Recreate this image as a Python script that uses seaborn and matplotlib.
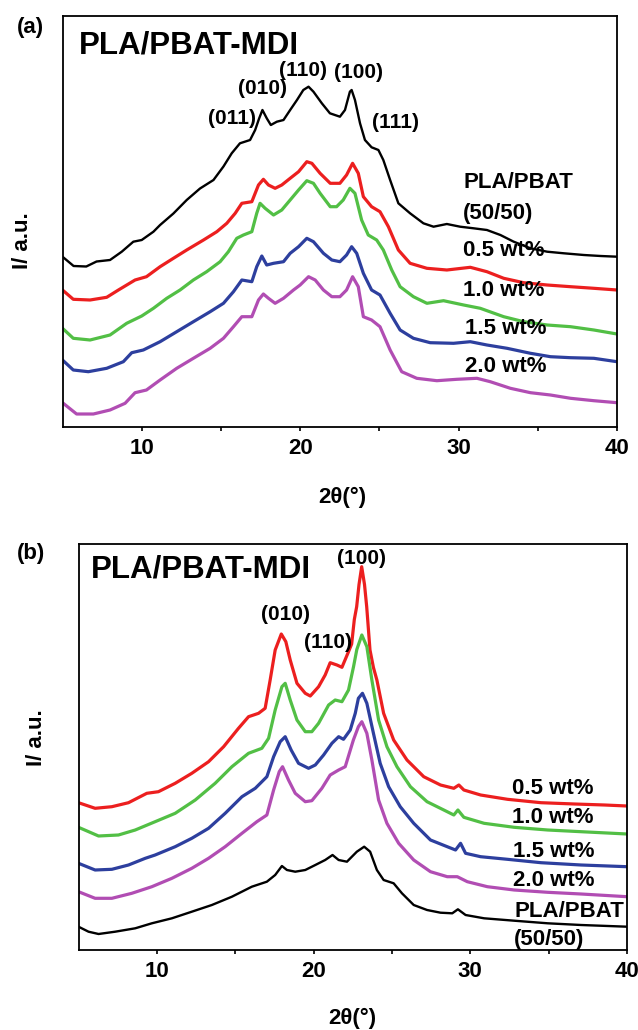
import matplotlib
matplotlib.use("Agg")
import matplotlib.pyplot as plt
import seaborn as sns
import pandas as pd
from matplotlib.ticker import FixedLocator

# ---------------- data (2theta in degrees, intensity in arbitrary units) -------------
samples_a = ["PLA/PBAT (50/50)", "0.5 wt%", "1.0 wt%", "1.5 wt%", "2.0 wt%"]
samples_b = ["0.5 wt%", "1.0 wt%", "1.5 wt%", "2.0 wt%", "PLA/PBAT (50/50)"]

a_black = [(5.0,169.8),(5.7,160.5),(6.5,160),(7.15,165),(8.0,166.5),(8.74,174.8),(9.47,184.8),
           (10.0,186.5),(10.74,194.8),(11.16,201.5),(12.0,213),(12.84,226.5),(13.68,238),(14.53,246.5),
           (15.16,260),(15.68,273.2),(16.2,283.2),(16.84,286.5),(17.16,296.5),(17.41,308),(17.62,316.5),
           (17.9,308),(18.15,301.5),(18.53,304.8),(18.95,306.5),(19.37,316.5),(19.8,326.5),(20.2,336.5),
           (20.53,339.8),(20.84,334.8),(21.37,323.2),(21.88,313.2),(22.51,309.8),(22.83,316.5),
           (23.14,334.8),(23.25,336.5),(23.46,326.5),(23.78,303.2),(24.09,286.5),(24.51,279.2),
           (24.94,276.5),(25.25,266.5),(25.68,246.5),(26.2,223.2),(26.94,213.2),(27.78,203.2),
           (28.42,199.8),(29.26,202.5),(30.1,199.8),(30.95,198.2),(31.79,196.5),(32.64,191.5),
           (33.48,184.8),(34.54,178.2),(35.59,174.8),(36.65,173.2),(37.91,171.5),(38.97,170.5),(40.0,169.8)]
a_red = [(5.0,136.5),(5.68,127.2),(6.74,126.5),(7.79,129.2),(8.53,136.5),(9.58,146.5),(10.3,149.8),
         (11.16,159.8),(12.0,168.2),(12.84,176.5),(13.9,186.5),(14.74,194.8),(15.37,203.2),(15.9,213.2),
         (16.32,223.2),(16.95,224.8),(17.37,241.5),(17.68,247.2),(18.0,241.5),(18.42,238.2),(18.84,241.5),
         (19.37,248.2),(19.9,254.8),(20.42,264.8),(20.74,263.2),(21.26,253.2),(21.9,243.2),(22.51,243.2),
         (22.93,251.5),(23.31,263.2),(23.67,253.2),(23.99,229.8),(24.51,219.8),(25.04,214.8),(25.57,199.8),
         (26.2,176.5),(26.94,163.2),(28.0,158.2),(29.26,156.5),(30.74,159.2),(31.79,154.8),(32.85,148.2),
         (34.11,143.8),(35.59,141.5),(37.07,139.8),(38.54,138.2),(40.0,136.5)]
a_green = [(5.0,98.2),(5.68,88.2),(6.74,86.5),(8.0,91.5),(9.05,103.2),(10.0,110.5),(10.74,118.2),
           (11.58,128.2),(12.42,136.5),(13.26,146.5),(14.1,154.8),(14.95,164.8),(15.47,174.8),(16.0,188.2),
           (16.42,191.5),(16.95,194.8),(17.26,213.2),(17.47,223.2),(17.79,218.2),(18.32,211.5),(18.84,216.5),
           (19.37,226.5),(19.9,236.5),(20.42,245.8),(20.84,243.2),(21.26,233.2),(21.9,219.8),(22.3,219.8),
           (22.72,226.5),(23.14,238.2),(23.46,233.2),(23.88,206.5),(24.3,191.5),(24.83,186.5),(25.25,176.5),
           (25.78,156.5),(26.31,139.8),(27.15,129.8),(28.0,123.2),(29.05,125.8),(30.32,121.5),(31.37,118.2),
           (32.85,109.8),(34.11,104.8),(35.59,101.5),(37.07,99.8),(38.54,96.5),(40.0,92.5)]
a_blue = [(5.0,66.5),(5.68,56.5),(6.63,54.8),(7.79,58.2),(8.84,64.8),(9.37,73.8),(10.1,76.5),
          (11.16,84.8),(12.21,94.8),(13.26,104.8),(14.32,114.8),(15.16,123.2),(15.79,134.8),(16.32,146.5),
          (16.95,144.8),(17.26,159.8),(17.58,170.5),(17.89,161.5),(18.32,163.2),(18.95,164.8),(19.37,173.2),
          (19.9,179.8),(20.42,188.2),(20.84,184.8),(21.47,173.2),(22.0,166.5),(22.51,164.8),(22.93,171.5),
          (23.25,179.8),(23.57,173.2),(23.99,153.2),(24.51,136.5),(25.04,131.5),(25.68,113.2),(26.31,96.5),
          (27.15,88.2),(28.21,83.8),(29.68,83.2),(30.74,84.8),(31.79,81.5),(33.06,78.2),(34.54,73.2),
          (35.8,69.8),(37.07,68.8),(38.54,68.2),(40.0,64.8)]
a_purple = [(5.0,23.8),(5.89,12.5),(6.95,12.5),(8.0,16.5),(8.95,23.2),(9.58,33.8),(10.3,36.5),
            (11.16,46.5),(12.21,58.2),(13.26,68.2),(14.32,78.2),(15.16,88.2),(15.79,99.8),(16.32,109.8),
            (16.95,109.8),(17.37,126.5),(17.68,132.5),(18.0,128.2),(18.42,123.2),(18.95,128.2),(19.58,136.5),
            (20.0,141.5),(20.53,149.8),(20.95,146.5),(21.47,136.5),(22.0,129.8),(22.51,129.8),(22.93,136.5),
            (23.31,149.8),(23.67,139.8),(23.99,109.8),(24.51,106.5),(25.04,99.8),(25.68,76.5),(26.41,54.8),
            (27.36,48.2),(28.63,45.8),(29.89,47.2),(31.16,48.2),(32.0,44.8),(33.27,38.2),(34.54,33.8),
            (35.8,31.5),(37.07,28.2),(38.54,25.8),(40.0,23.8)]

b_red = [(5.0,146.8),(6.06,141.2),(7.13,142.8),(8.19,146.8),(9.36,156.2),(10.1,157.8),(11.17,166.2),
         (12.23,176.2),(13.3,187.8),(14.26,202.8),(15.21,221.2),(15.85,232.8),(16.49,236.2),(16.91,241.2),
         (17.23,269.5),(17.55,299.5),(17.94,315.5),(18.23,307.8),(18.51,289.5),(18.94,266.2),(19.47,256.2),
         (19.79,253.5),(20.32,262.8),(20.74,274.5),(21.06,286.8),(21.49,284.5),(21.81,282.2),(22.23,297.8),
         (22.43,305.5),(22.6,330.0),(22.75,342.8),(22.9,365.0),(23.07,382.8),(23.25,365.0),(23.39,342.8),
         (23.6,299.5),(23.82,282.0),(24.04,269.5),(24.47,236.2),(25.11,209.5),(25.96,189.5),(27.03,172.8),
         (28.1,164.5),(28.95,161.2),(29.27,164.5),(29.59,159.5),(30.66,154.5),(32.37,150.2),(34.51,146.8),
         (36.65,145.5),(38.57,144.5),(40.0,143.5)]
b_green = [(5.0,122.2),(6.28,113.5),(7.55,114.5),(8.62,119.5),(9.89,127.8),(11.17,136.2),(12.45,149.5),
           (13.72,166.2),(14.79,182.8),(15.85,196.2),(16.7,201.2),(17.13,211.2),(17.55,239.5),(17.98,262.8),
           (18.19,266.2),(18.51,249.5),(18.94,229.5),(19.47,217.8),(19.89,217.8),(20.32,226.2),(20.96,244.5),
           (21.38,249.5),(21.81,247.8),(22.23,259.5),(22.55,282.8),(22.76,300.0),(23.08,314.5),(23.4,302.8),
           (23.72,269.5),(24.15,229.5),(24.68,202.8),(25.32,182.8),(26.18,162.8),(27.24,147.8),(28.31,139.5),
           (28.95,134.5),(29.21,139.5),(29.59,132.2),(30.88,126.2),(32.8,122.2),(34.94,119.5),(37.07,117.8),
           (40.0,115.5)]
b_blue = [(5.0,86.2),(6.06,79.5),(7.13,80.2),(8.19,84.5),(9.26,91.2),(9.89,94.5),(11.17,102.8),
          (12.23,111.2),(13.3,121.2),(14.36,136.2),(15.43,152.8),(16.28,161.2),(17.02,172.8),(17.45,192.8),
          (17.87,207.8),(18.19,212.8),(18.57,199.5),(19.04,186.2),(19.68,181.2),(20.11,184.5),(20.64,194.5),
          (21.17,206.2),(21.6,212.8),(21.91,210.2),(22.34,219.5),(22.66,236.2),(22.86,251.2),(23.12,256.2),
          (23.4,246.2),(23.82,216.2),(24.25,186.2),(24.79,162.8),(25.53,142.8),(26.39,126.2),(27.46,109.5),
          (28.53,102.8),(29.06,99.5),(29.38,106.2),(29.7,96.2),(30.66,92.8),(32.37,90.2),(34.51,86.8),
          (37.07,84.5),(40.0,82.8)]
b_purple = [(5.0,57.8),(6.06,51.2),(7.13,51.2),(8.4,56.2),(9.68,62.8),(10.96,71.2),(12.23,81.2),
            (13.3,91.2),(14.36,102.8),(15.43,116.2),(16.38,127.8),(17.02,134.5),(17.45,159.5),(17.81,177.8),
            (18.02,182.8),(18.4,169.5),(18.83,156.2),(19.47,147.8),(19.89,148.8),(20.53,161.2),(21.06,174.5),
            (21.6,179.5),(22.02,182.8),(22.54,209.5),(22.86,222.8),(23.08,227.8),(23.4,216.2),(23.72,189.5),
            (24.15,149.5),(24.68,126.2),(25.43,106.2),(26.39,89.5),(27.46,77.8),(28.53,72.8),(29.17,72.8),
            (29.81,67.8),(31.09,62.8),(32.8,59.5),(34.94,57.2),(37.07,55.5),(40.0,52.8)]
b_black = [(5.0,22.8),(5.64,17.8),(6.28,15.5),(7.34,17.8),(8.62,21.2),(9.68,26.2),(10.96,31.2),
           (12.23,37.8),(13.51,44.5),(14.79,52.8),(16.06,62.8),(17.02,67.8),(17.55,74.5),(17.98,83.5),
           (18.3,79.5),(18.83,77.8),(19.47,79.5),(20.11,84.5),(20.74,89.5),(21.21,94.5),(21.6,89.5),
           (22.13,87.8),(22.76,97.8),(23.23,102.8),(23.61,97.8),(24.04,79.5),(24.47,69.5),(25.11,66.2),
           (25.64,56.2),(26.39,44.5),(27.24,39.5),(28.1,36.8),(28.85,36.2),(29.21,40.2),(29.7,34.5),
           (30.88,31.2),(32.8,28.8),(34.94,26.2),(37.07,24.5),(40.0,22.8)]

peaks_a = ["(011)", "(010)", "(110)", "(100)", "(111)"]
peaks_a_pos = [(15.7, 308.5), (17.6, 337.5), (20.19, 355.5), (23.66, 353.5), (25.99, 303.5)]
peaks_b = ["(010)", "(110)", "(100)"]
peaks_b_pos = [(18.18, 334.5), (20.92, 306.5), (23.05, 391.5)]
xticks_major = [10, 20, 30, 40]
xticks_minor = [15, 25, 35]

colors = {"PLA/PBAT (50/50)": "#000000", "0.5 wt%": "#ec1f1f", "1.0 wt%": "#52bf45",
          "1.5 wt%": "#2d3f9e", "2.0 wt%": "#b14db3"}


def frame(series, names):
    rows = []
    for pts, name in zip(series, names):
        for order, (x, y) in enumerate(pts):
            rows.append({"two_theta": x, "I": y, "sample": name, "order": order})
    return pd.DataFrame(rows)


df_a = frame([a_black, a_red, a_green, a_blue, a_purple], samples_a)
df_b = frame([b_red, b_green, b_blue, b_purple, b_black], samples_b)

sns.set_theme(style="white")
plt.rcParams["font.family"] = ["Liberation Sans", "DejaVu Sans"]
plt.rcParams["font.weight"] = "bold"
plt.rcParams["axes.labelweight"] = "bold"
plt.rcParams["text.color"] = "black"
plt.rcParams["xtick.color"] = "black"
plt.rcParams["xtick.labelcolor"] = "black"
plt.rcParams["axes.edgecolor"] = "black"

W, H = 638, 1030
fig = plt.figure(figsize=(W / 100, H / 100), dpi=100)
fig.patch.set_facecolor("white")

ax_a = fig.add_axes([62.5 / W, 1 - 426.5 / H, (617 - 62.5) / W, (426.5 - 16) / H])
ax_b = fig.add_axes([78.5 / W, 1 - 949.5 / H, (627 - 78.5) / W, (949.5 - 544) / H])


def draw(ax, df, names, ylim):
    for name in names:
        sub = df[df["sample"] == name]
        lw = 1.7 if name.startswith("PLA") else 2.3
        sns.lineplot(data=sub, x="two_theta", y="I", ax=ax, color=colors[name],
                     lw=lw, sort=False, estimator=None, legend=False)
    ax.set_xlim(5, 40)
    ax.set_ylim(*ylim)
    ax.set_yticks([])
    ax.xaxis.set_major_locator(FixedLocator(xticks_major))
    ax.xaxis.set_minor_locator(FixedLocator(xticks_minor))
    ax.tick_params(axis="x", which="both", direction="out", length=3.2, width=1.2,
                   bottom=True, top=False, labelsize=16, pad=5, colors="black")
    for lab in ax.get_xticklabels():
        lab.set_fontweight("bold")
    for s in ax.spines.values():
        s.set_visible(True)
        s.set_color("black")
        s.set_linewidth(1.3)
    ax.set_xlabel("")
    ax.set_ylabel("")
    ax.set_facecolor("white")


draw(ax_a, df_a, samples_a, (0, 410.5))
draw(ax_b, df_b, samples_b, (0, 405.5))

# panel a annotations
ax_a.text(6.04, 381.5, "PLA/PBAT-MDI", fontsize=22.5, fontweight="bold", ha="left", va="center")
for lab, (x, y) in zip(peaks_a, peaks_a_pos):
    ax_a.text(x, y, lab, fontsize=15, fontweight="bold", ha="center", va="center")
right_a = [("PLA/PBAT", 30.28, 244.5), ("(50/50)", 30.28, 213.5), ("0.5 wt%", 30.28, 175.5),
           ("1.0 wt%", 30.28, 136.5), ("1.5 wt%", 30.4, 98.5), ("2.0 wt%", 30.4, 59.5)]
for lab, x, y in right_a:
    ax_a.text(x, y, lab, fontsize=16, fontweight="bold", ha="left", va="center")

# panel b annotations
ax_b.text(5.8, 380.5, "PLA/PBAT-MDI", fontsize=22.5, fontweight="bold", ha="left", va="center")
for lab, (x, y) in zip(peaks_b, peaks_b_pos):
    ax_b.text(x, y, lab, fontsize=15, fontweight="bold", ha="center", va="center")
right_b = [("0.5 wt%", 32.64, 161.2), ("1.0 wt%", 32.64, 132.2), ("1.5 wt%", 32.7, 97.8),
           ("2.0 wt%", 32.7, 69.5), ("PLA/PBAT", 32.8, 37.8), ("(50/50)", 32.8, 9.5)]
for lab, x, y in right_b:
    ax_b.text(x, y, lab, fontsize=16, fontweight="bold", ha="left", va="center", clip_on=False)

# panel letters and axis titles
fig.text(17 / W, 1 - 27 / H, "(a)", fontsize=16, fontweight="bold", ha="left", va="center")
fig.text(17 / W, 1 - 553 / H, "(b)", fontsize=16, fontweight="bold", ha="left", va="center")
fig.text(23 / W, 1 - 241 / H, "I/ a.u.", fontsize=16, fontweight="bold", rotation=90,
         ha="center", va="center")
fig.text(37 / W, 1 - 738 / H, "I/ a.u.", fontsize=16, fontweight="bold", rotation=90,
         ha="center", va="center")
fig.text(342 / W, 1 - 497 / H, "2θ(°)", fontsize=16, fontweight="bold", ha="center", va="center")
fig.text(352 / W, 1 - 1018 / H, "2θ(°)", fontsize=16, fontweight="bold", ha="center", va="center")

fig.savefig("out.png", dpi=100, facecolor="white")
